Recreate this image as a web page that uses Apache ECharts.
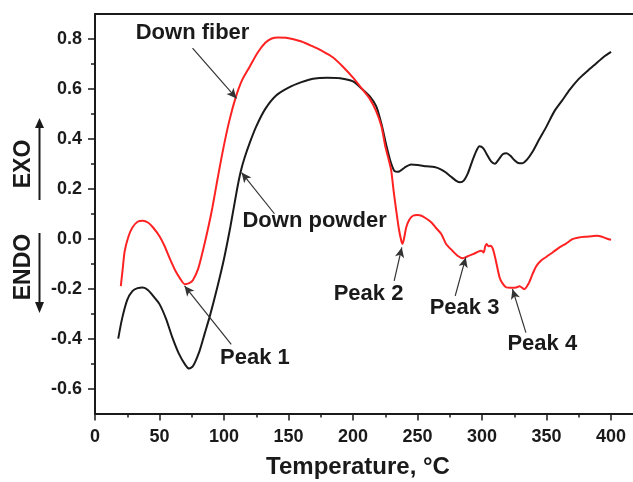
<!DOCTYPE html>
<html>
<head>
<meta charset="utf-8">
<script src="https://cdn.jsdelivr.net/npm/echarts@6/dist/echarts.min.js"></script>
<style>
  html, body { margin: 0; padding: 0; background: #fff; }
  #chart { width: 633px; height: 482px; }
</style>
</head>
<body>
<div id="chart"></div>
<script>
// DSC traces: temperature (°C) and heat flow (a.u.)
const fiberT = [20, 21.5, 23, 26, 29, 33, 37, 41, 45, 50, 54, 58, 62, 66, 69.5, 73, 76, 80, 84, 88,
  91, 95, 99, 104, 109, 114, 120, 126, 132, 137, 142, 148, 153, 160, 168, 176, 184, 192, 200, 207,
  213, 218, 222, 225, 227.5, 229.6, 231.5, 233.5, 235.5, 237.4, 238.3, 239.5, 241.2, 243.5, 246.4, 250, 253, 257, 260.6, 264,
  268.4, 272, 277, 281, 285, 289, 293, 297, 299.4, 301.2, 302.5, 303.5, 305, 306.5, 308.4, 310.7, 313.6, 316, 318.8, 322,
  326.5, 329, 332.7, 336, 339.1, 342, 345.6, 350, 354.7, 360, 365, 370, 375, 380, 385, 389, 393, 397, 400];
const fiberV = [-0.19, -0.12, -0.05, 0.01, 0.045, 0.068, 0.072, 0.065, 0.045, 0.01, -0.03, -0.08, -0.125, -0.16, -0.182, -0.178, -0.165, -0.12, -0.04, 0.05,
  0.125, 0.24, 0.35, 0.47, 0.565, 0.635, 0.69, 0.745, 0.785, 0.802, 0.806, 0.805, 0.80, 0.79, 0.772, 0.752, 0.728, 0.69, 0.645, 0.60,
  0.56, 0.51, 0.45, 0.37, 0.32, 0.273, 0.19, 0.112, 0.04, -0.008, -0.02, 0.0, 0.045, 0.075, 0.092, 0.095, 0.092, 0.08, 0.066, 0.045,
  0.019, -0.02, -0.048, -0.068, -0.078, -0.07, -0.062, -0.052, -0.048, -0.055, -0.03, -0.021, -0.03, -0.028, -0.041, -0.088, -0.155, -0.18, -0.195, -0.196,
  -0.195, -0.19, -0.202, -0.18, -0.142, -0.11, -0.088, -0.072, -0.055, -0.035, -0.02, -0.002, 0.005, 0.008, 0.01, 0.012, 0.008, 0.0, -0.004];

const powderT = [18, 21, 25, 29, 33, 37, 41, 46, 50, 55, 60, 65, 70, 73, 76, 81, 85, 89, 95, 100,
  105, 110, 113, 116, 120, 125, 132, 140, 150, 160, 169, 180, 190, 200, 207, 213, 218, 222, 226, 229, 232,
  235, 240, 245, 250, 257, 263, 268, 272, 276, 280, 283, 286, 289, 292, 295, 298, 301, 304, 307, 310,
  313, 316, 319, 322, 325, 328, 331, 335, 339, 344, 350, 356, 362, 368, 375, 382, 388, 394, 400];
const powderV = [-0.40, -0.32, -0.245, -0.21, -0.198, -0.195, -0.205, -0.235, -0.262, -0.32, -0.396, -0.46, -0.505, -0.52, -0.51, -0.45, -0.38, -0.31, -0.19, -0.08,
  0.05, 0.195, 0.27, 0.325, 0.385, 0.45, 0.52, 0.572, 0.605, 0.627, 0.641, 0.645, 0.643, 0.63, 0.60, 0.57, 0.53, 0.46, 0.37, 0.31, 0.272,
  0.268, 0.285, 0.297, 0.295, 0.29, 0.287, 0.278, 0.265, 0.248, 0.232, 0.226, 0.234, 0.262, 0.305, 0.345, 0.37, 0.362, 0.335, 0.31, 0.30,
  0.318, 0.338, 0.342, 0.332, 0.315, 0.303, 0.302, 0.318, 0.347, 0.395, 0.45, 0.51, 0.553, 0.597, 0.64, 0.673, 0.70, 0.727, 0.748];

// axis ticks
const xTicks = [0, 50, 100, 150, 200, 250, 300, 350, 400];
const xMinor = [25, 75, 125, 175, 225, 275, 325, 375];
const yTicks = [-0.6, -0.4, -0.2, 0.0, 0.2, 0.4, 0.6, 0.8];
const yMinor = [-0.5, -0.3, -0.1, 0.1, 0.3, 0.5, 0.7];

// annotations (data coordinates)
const notes = ['Down fiber', 'Down powder', 'Peak 1', 'Peak 2', 'Peak 3', 'Peak 4'];
const noteAt = [[75.6, 0.823], [170.2, 0.072], [124, -0.477], [212, -0.222], [286.4, -0.276], [346.7, -0.423]];
const arrowFrom = [[75.6, 0.763], [139.1, 0.100], [105.6, -0.423], [231.9, -0.169], [279.2, -0.229], [334, -0.376]];
const arrowTo = [[109.7, 0.562], [113.6, 0.265], [69.4, -0.189], [237.8, -0.035], [287.4, -0.075], [323.6, -0.202]];

const FONT = '"Liberation Sans", Arial, sans-serif';
const INK = '#1a1a1a';
const X_MAX = 417;

const zip = (a, b) => a.map((v, i) => [v, b[i]]);

const chart = echarts.init(document.getElementById('chart'), null, { renderer: 'canvas' });

const plainAxis = {
  axisLine: { show: false, onZero: false },
  axisTick: { show: false },
  axisLabel: { show: false },
  splitLine: { show: false }
};

chart.setOption({
  animation: false,
  backgroundColor: '#fff',
  grid: { left: 95, right: 0, top: 14, bottom: 68.5, containLabel: false, outerBoundsMode: 'none' },
  xAxis: [
    {
      type: 'value', min: 0, max: X_MAX, position: 'bottom',
      name: 'Temperature, \u00B0C', nameLocation: 'middle', nameGap: 42,
      nameTextStyle: { fontFamily: FONT, fontWeight: 'bold', fontSize: 24, color: INK, padding: [0, 12, 0, 0] },
      axisLine: { show: true, onZero: false, lineStyle: { color: INK, width: 2 } },
      axisTick: { show: true, customValues: xTicks, length: 7, lineStyle: { color: INK, width: 1.5 } },
      axisLabel: { customValues: xTicks, margin: 15, fontFamily: FONT, fontWeight: 'bold', fontSize: 18, color: INK },
      splitLine: { show: false }
    },
    Object.assign({}, plainAxis, {
      type: 'value', min: 0, max: X_MAX, position: 'bottom',
      axisTick: { show: true, customValues: xMinor, length: 4, lineStyle: { color: INK, width: 1.5 } }
    }),
    Object.assign({}, plainAxis, {
      type: 'value', min: 0, max: X_MAX, position: 'top',
      axisLine: { show: true, onZero: false, lineStyle: { color: INK, width: 2 } }
    })
  ],
  yAxis: [
    {
      type: 'value', min: -0.7, max: 0.9, position: 'left',
      axisLine: { show: true, onZero: false, lineStyle: { color: INK, width: 2 } },
      axisTick: { show: true, customValues: yTicks, length: 7, lineStyle: { color: INK, width: 1.5 } },
      axisLabel: {
        customValues: yTicks, margin: 13, fontFamily: FONT, fontWeight: 'bold', fontSize: 18, color: INK,
        formatter: v => v.toFixed(1)
      },
      splitLine: { show: false }
    },
    Object.assign({}, plainAxis, {
      type: 'value', min: -0.7, max: 0.9, position: 'left',
      axisTick: { show: true, customValues: yMinor, length: 4, lineStyle: { color: INK, width: 1.5 } }
    })
  ],
  series: [
    {
      name: 'Down powder', type: 'line', data: zip(powderT, powderV),
      showSymbol: false, smooth: 0.25, lineStyle: { color: INK, width: 2 }, silent: true
    },
    {
      name: 'Down fiber', type: 'line', data: zip(fiberT, fiberV),
      showSymbol: false, smooth: 0.25, lineStyle: { color: '#ff2222', width: 2 }, silent: true,
      markLine: {
        silent: true, symbol: ['none', 'arrow'], symbolSize: [7, 10], precision: 3,
        label: { show: false },
        lineStyle: { color: '#333', width: 1.2, type: 'solid' },
        emphasis: { disabled: true },
        data: arrowFrom.map((p, i) => [{ coord: p }, { coord: arrowTo[i] }])
      },
      markPoint: {
        silent: true, symbol: 'circle', symbolSize: 1,
        itemStyle: { color: 'transparent' },
        label: {
          show: true, position: 'inside', fontFamily: FONT, fontWeight: 'bold', fontSize: 22, color: INK,
          formatter: p => p.name
        },
        data: notes.map((n, i) => ({ name: n, coord: noteAt[i] }))
      }
    }
  ],
  graphic: [
    { type: 'text', x: 24, y: 164, rotation: Math.PI / 2,
      style: { text: 'EXO', fontFamily: FONT, fontWeight: 'bold', fontSize: 23, fill: INK, align: 'center', verticalAlign: 'middle' } },
    { type: 'line', shape: { x1: 39.5, y1: 200, x2: 39.5, y2: 126 }, style: { stroke: INK, lineWidth: 2 } },
    { type: 'polygon', shape: { points: [[35, 128], [44, 128], [39.5, 118]] }, style: { fill: INK } },
    { type: 'text', x: 24, y: 267, rotation: Math.PI / 2,
      style: { text: 'ENDO', fontFamily: FONT, fontWeight: 'bold', fontSize: 23, fill: INK, align: 'center', verticalAlign: 'middle' } },
    { type: 'line', shape: { x1: 39.5, y1: 233, x2: 39.5, y2: 304 }, style: { stroke: INK, lineWidth: 2 } },
    { type: 'polygon', shape: { points: [[35, 302], [44, 302], [39.5, 313]] }, style: { fill: INK } }
  ]
});
</script>
</body>
</html>
